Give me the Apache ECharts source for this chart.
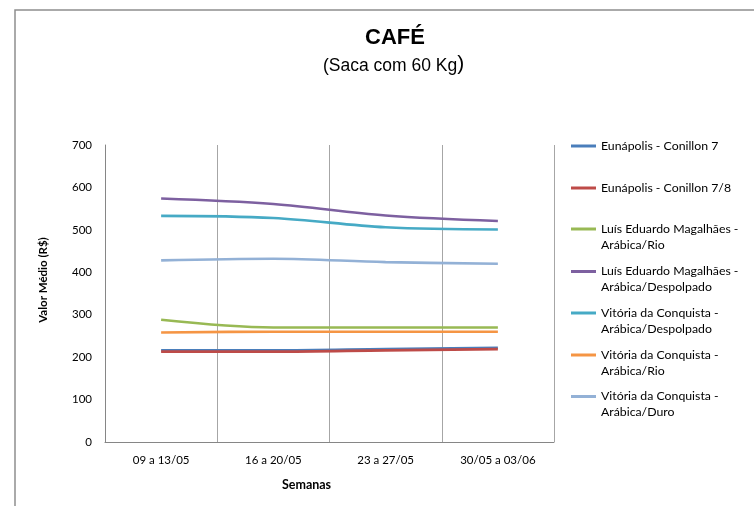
<!DOCTYPE html>
<html>
<head>
<meta charset="utf-8">
<script src="https://cdn.jsdelivr.net/npm/echarts@6/dist/echarts.min.js"></script>
<style>
html,body{margin:0;padding:0;background:#fff;}
#chart{width:754px;height:506px;}
</style>
</head>
<body>
<div id="chart"></div>
<script>
const categories = ['09 a 13/05', '16 a 20/05', '23 a 27/05', '30/05 a 03/06'];
const seriesNames = [
  'Eunápolis - Conillon 7',
  'Eunápolis - Conillon 7/8',
  'Luís Eduardo Magalhães - Arábica/Rio',
  'Luís Eduardo Magalhães - Arábica/Despolpado',
  'Vitória da Conquista - Arábica/Despolpado',
  'Vitória da Conquista - Arábica/Rio',
  'Vitória da Conquista - Arábica/Duro'
];
const legendLabels = [
  'Eunápolis - Conillon 7',
  'Eunápolis - Conillon 7/8',
  'Luís Eduardo Magalhães -\nArábica/Rio',
  'Luís Eduardo Magalhães -\nArábica/Despolpado',
  'Vitória da Conquista -\nArábica/Despolpado',
  'Vitória da Conquista -\nArábica/Rio',
  'Vitória da Conquista -\nArábica/Duro'
];
const conillon7 = [216, 216, 219, 222];
const conillon78 = [213, 213, 216, 219];
const lemRio = [288, 270, 270, 270];
const lemDespolpado = [574, 561, 534, 521];
const vcDespolpado = [533, 528, 506, 501];
const vcRio = [258, 260, 260, 260];
const vcDuro = [428, 432, 424, 420];
const yTicks = [0, 100, 200, 300, 400, 500, 600, 700];

const values = [conillon7, conillon78, lemRio, lemDespolpado, vcDespolpado, vcRio, vcDuro];
const colors = ['#4A7EBB', '#BE4B48', '#98B954', '#7D60A0', '#46AAC5', '#F59544', '#93B1D6'];
const legendIconY = [146, 188, 229, 271.5, 313, 355, 396.5];
const FONT = 'Lato';

const legends = seriesNames.map((name, i) => {
  const twoLines = legendLabels[i].indexOf('\n') >= 0;
  return {
    left: 571,
    top: twoLines ? legendIconY[i] - 24 : legendIconY[i] - 8,
    padding: 0,
    orient: 'vertical',
    icon: 'rect',
    itemWidth: 25,
    itemHeight: 3,
    selectedMode: false,
    data: [name],
    formatter: () => (twoLines ? '\u00a0\n' + legendLabels[i] : legendLabels[i]),
    textStyle: {fontFamily: FONT, fontSize: 12.3, color: '#000', lineHeight: 16}
  };
});

const chart = echarts.init(document.getElementById('chart'), null, {renderer: 'canvas'});
chart.setOption({
  animation: false,
  backgroundColor: '#fff',
  graphic: [{
    type: 'rect', silent: true,
    shape: {x: 15, y: 10, width: 900, height: 700},
    style: {fill: 'none', stroke: '#8e8e8e', lineWidth: 1.5}
  }],
  title: [{
    text: 'CAFÉ',
    left: 365, top: 26, padding: 0, textAlign: 'left',
    textStyle: {fontFamily: 'Liberation Sans', fontWeight: 'bold', fontSize: 22, color: '#000', lineHeight: 24}
  }, {
    text: '{a|(Saca com 60 Kg}{b|)}',
    left: 323, top: 53, padding: 0, textAlign: 'left',
    textStyle: {
      fontWeight: 'normal',
      rich: {
        a: {fontFamily: 'Liberation Sans', fontWeight: 'normal', fontSize: 17.5, color: '#000', lineHeight: 22, verticalAlign: 'bottom'},
        b: {fontFamily: 'Liberation Sans', fontWeight: 'normal', fontSize: 21, color: '#000', lineHeight: 22, verticalAlign: 'bottom'}
      }
    }
  }],
  legend: legends,
  grid: {left: 105, right: 200, top: 145, bottom: 64, containLabel: false},
  xAxis: {
    type: 'category',
    data: categories,
    boundaryGap: true,
    name: 'Semanas',
    nameLocation: 'middle',
    nameGap: 36,
    nameTextStyle: {fontFamily: FONT, fontWeight: 'bold', fontSize: 12.5, color: '#000', padding: [0, 46, 0, 0]},
    axisLine: {show: true, lineStyle: {color: '#868686', width: 1}},
    axisTick: {show: false},
    axisLabel: {fontFamily: FONT, fontSize: 11.5, color: '#000', margin: 12},
    splitLine: {show: true, lineStyle: {color: '#a6a6a6', width: 1}}
  },
  yAxis: {
    type: 'value',
    min: 0, max: 700, interval: 100,
    name: 'Valor Médio (R$)',
    nameLocation: 'middle',
    nameGap: 56,
    nameTextStyle: {fontFamily: FONT, fontWeight: 'bold', fontSize: 11.5, color: '#000', padding: [0, 0, 0, 27]},
    axisLine: {show: true, lineStyle: {color: '#868686', width: 1}},
    axisTick: {show: false},
    axisLabel: {
      fontFamily: FONT, fontSize: 11.5, color: '#000', margin: 13,
      formatter: v => (yTicks.indexOf(v) >= 0 ? String(v) : '')
    },
    splitLine: {show: false}
  },
  series: seriesNames.map((name, i) => ({
    name: name,
    type: 'line',
    data: values[i],
    smooth: 0.35,
    showSymbol: false,
    symbol: 'none',
    color: colors[i],
    lineStyle: {width: 2.6, color: colors[i]},
    z: 2 + i
  }))
});
</script>
</body>
</html>
